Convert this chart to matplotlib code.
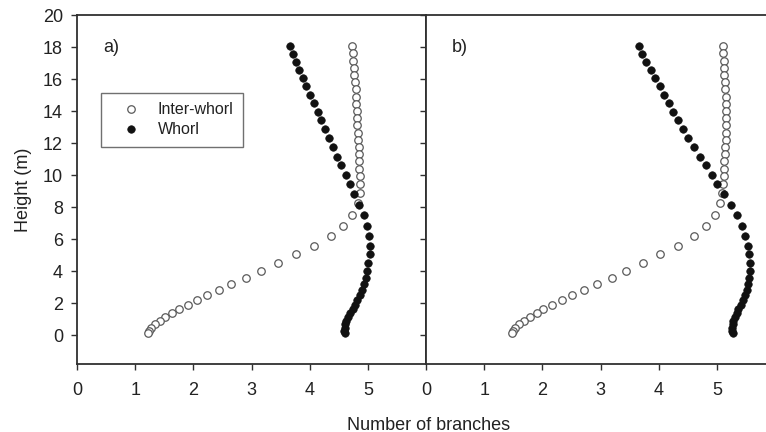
#!/usr/bin/env python3
"""
Branch count vs height, two panels (a, b), inter-whorl vs whorl branches.
"""

import matplotlib
matplotlib.use("Agg")
import matplotlib.pyplot as plt

plt.rcParams["font.family"] = ["Liberation Sans", "DejaVu Sans"]

# === Data ===================================================================
# heights (m) of inter-whorl points
h_inter = [18.06, 17.60, 17.15, 16.70, 16.25, 15.80, 15.35, 14.90, 14.45, 14.00,
           13.55, 13.10, 12.65, 12.20, 11.75, 11.30, 10.85, 10.40, 9.95, 9.45,
           8.90, 8.25, 7.50, 6.83, 6.20, 5.60, 5.04, 4.52, 4.03, 3.60,
           3.20, 2.83, 2.49, 2.19, 1.91, 1.64, 1.38, 1.13, 0.90, 0.68,
           0.47, 0.28, 0.12]

# heights (m) of whorl points
h_whorl = [18.06, 17.56, 17.06, 16.56, 16.06, 15.55, 15.03, 14.50, 13.96, 13.42,
           12.86, 12.29, 11.73, 11.16, 10.60, 10.02, 9.42, 8.80, 8.16, 7.50,
           6.83, 6.20, 5.60, 5.04, 4.52, 4.03, 3.60, 3.20, 2.83, 2.49,
           2.19, 1.91, 1.64, 1.38, 1.13, 0.90, 0.68, 0.47, 0.28, 0.12]

# panel a
a_inter = [4.73, 4.74, 4.75, 4.76, 4.77, 4.78, 4.79, 4.80, 4.80, 4.81,
           4.82, 4.82, 4.83, 4.83, 4.84, 4.84, 4.85, 4.85, 4.86, 4.86,
           4.86, 4.83, 4.72, 4.57, 4.37, 4.08, 3.76, 3.45, 3.17, 2.90,
           2.65, 2.44, 2.24, 2.06, 1.90, 1.76, 1.63, 1.52, 1.42, 1.34,
           1.28, 1.24, 1.22]
a_whorl = [3.67, 3.71, 3.76, 3.82, 3.88, 3.94, 4.01, 4.07, 4.14, 4.20,
           4.26, 4.33, 4.40, 4.47, 4.54, 4.62, 4.70, 4.77, 4.85, 4.93,
           4.99, 5.02, 5.03, 5.03, 5.01, 4.98, 4.96, 4.94, 4.90, 4.86,
           4.82, 4.78, 4.74, 4.70, 4.66, 4.63, 4.61, 4.60, 4.59, 4.60]

# panel b
b_inter = [5.10, 5.11, 5.12, 5.13, 5.13, 5.14, 5.14, 5.15, 5.15, 5.15,
           5.15, 5.15, 5.15, 5.15, 5.14, 5.14, 5.13, 5.13, 5.12, 5.11,
           5.09, 5.06, 4.96, 4.82, 4.61, 4.34, 4.02, 3.73, 3.44, 3.19,
           2.94, 2.72, 2.51, 2.33, 2.17, 2.02, 1.90, 1.78, 1.68, 1.60,
           1.53, 1.49, 1.47]
b_whorl = [3.66, 3.72, 3.79, 3.86, 3.94, 4.02, 4.09, 4.17, 4.25, 4.33,
           4.42, 4.51, 4.61, 4.71, 4.81, 4.91, 5.01, 5.12, 5.24, 5.34,
           5.43, 5.49, 5.54, 5.56, 5.57, 5.57, 5.56, 5.54, 5.52, 5.49,
           5.45, 5.41, 5.37, 5.34, 5.31, 5.28, 5.27, 5.26, 5.26, 5.27]

x_ticks = [0, 1, 2, 3, 4, 5]
y_ticks = list(range(0, 21, 2))
panel_tags = ["a)", "b)"]

# === Style ==================================================================
W, H = 766, 432
SPINE = "#303030"
TEXT = "#222222"
OPEN_EDGE = "#5a5a5a"
FILL = "#111111"
FS = 13

fig = plt.figure(figsize=(W / 100, H / 100), dpi=100)

# axes boxes in pixels: left, top, right, bottom (panel b runs past the edge)
boxes = [(77, 15, 426, 364), (426, 15, 775, 364)]
axes = []
for (l, t, r, b) in boxes:
    ax = fig.add_axes([l / W, 1 - b / H, (r - l) / W, (b - t) / H])
    axes.append(ax)

series = [(a_inter, a_whorl), (b_inter, b_whorl)]

for i, ax in enumerate(axes):
    x_open, x_fill = series[i]
    ax.plot(x_open, h_inter, ls="none", marker="o", ms=5.4,
            mfc="white", mec=OPEN_EDGE, mew=0.9, label="Inter-whorl", zorder=3)
    ax.plot(x_fill, h_whorl, ls="none", marker="o", ms=5.4,
            mfc=FILL, mec=FILL, mew=0.5, label="Whorl", zorder=4)

    ax.set_xlim(0, 6)
    ax.set_ylim(-1.8, 20)
    ax.set_xticks(x_ticks)
    ax.set_yticks(y_ticks)

    for s in ax.spines.values():
        s.set_color(SPINE)
        s.set_linewidth(1.3)

    ax.tick_params(axis="x", direction="out", length=4, width=1, color=SPINE,
                   labelsize=FS, labelcolor=TEXT, pad=9)
    ax.text(0.45, 18.0, panel_tags[i], fontsize=FS, color=TEXT,
            ha="left", va="center")

# panel a: labelled y axis, inward ticks on the shared spine
axes[0].tick_params(axis="y", left=True, right=True, labelleft=True,
                    length=4, width=1, color=SPINE, labelsize=FS,
                    labelcolor=TEXT, pad=6)
axes[0].tick_params(axis="y", which="both", direction="out")
for tk in axes[0].yaxis.get_major_ticks():
    tk.tick2line.set_marker(matplotlib.lines.TICKLEFT)

axes[1].tick_params(axis="y", left=False, labelleft=False, right=False)

axes[0].set_ylabel("Height (m)", fontsize=FS, color=TEXT, labelpad=8)

leg = axes[0].legend(loc="upper left", bbox_to_anchor=(0.069, 0.777),
                     borderaxespad=0, fontsize=11.5, frameon=True,
                     fancybox=False, framealpha=1, edgecolor="#707070",
                     borderpad=0.6, handlelength=2.5, handletextpad=0.45,
                     labelspacing=0.3, numpoints=1)
leg.get_frame().set_linewidth(1.0)
for t in leg.get_texts():
    t.set_color(TEXT)

fig.text(429 / W, 1 - 425 / H, "Number of branches", fontsize=FS,
         color=TEXT, ha="center", va="center")

fig.savefig("out.png", dpi=100)
